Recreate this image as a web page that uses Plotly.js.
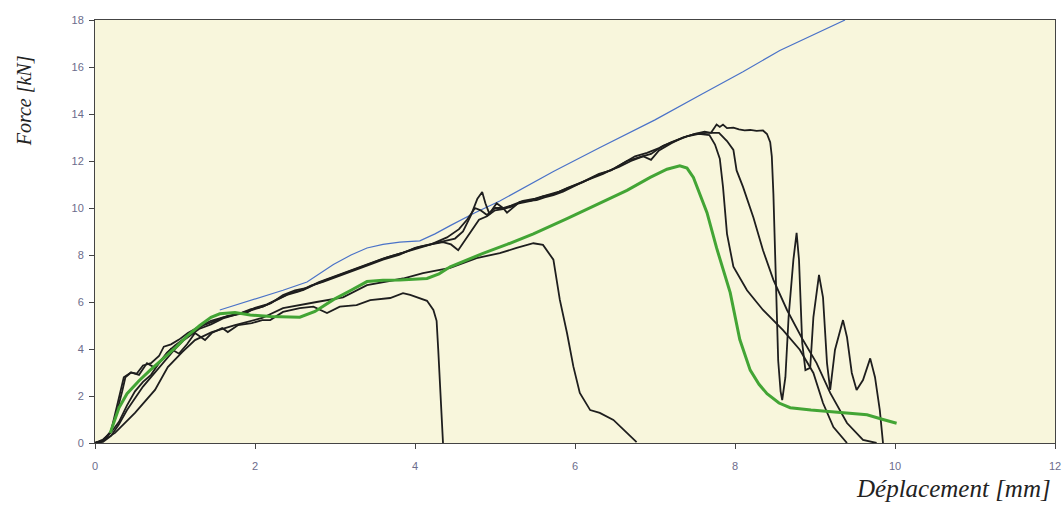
<!DOCTYPE html>
<html>
<head>
<meta charset="utf-8">
<script src="https://cdn.plot.ly/plotly-3.0.1.min.js"></script>
<style>html,body{margin:0;padding:0;background:#fff;}#chart{width:1062px;height:505px;}</style>
</head>
<body>
<div id="chart"></div>
<script>
// Specimen A (early failure ~4.3 mm)
const xA = [0,0.1,0.2,0.28,0.36,0.45,0.55,0.65,0.75,0.85,0.95,1.05,1.15,1.25,1.375,1.46,1.59,1.66,1.79,1.96,2.09,2.19,2.35,2.56,2.73,2.9,3.06,3.27,3.44,3.69,3.85,3.94,4.06,4.15,4.23,4.27,4.29,4.31,4.33,4.35];
const yA = [0,0.1,0.5,1.6,2.8,3.0,2.9,3.4,3.2,3.6,4.0,3.8,4.2,4.68,4.38,4.68,4.89,4.72,5.02,5.1,5.23,5.23,5.58,5.74,5.8,5.53,5.8,5.87,6.08,6.17,6.38,6.3,6.17,6.05,5.66,5.2,4.0,2.5,1.1,0];
// Specimen B (failure ~5.7 mm)
const xB = [0,0.1,0.25,0.5,0.75,0.91,1.09,1.25,1.46,1.75,2.09,2.35,2.77,3.1,3.4,3.6,3.85,4.1,4.31,4.44,4.77,5.06,5.27,5.48,5.6,5.73,5.81,5.9,5.98,6.06,6.19,6.31,6.48,6.65,6.77];
const yB = [0,0.1,0.43,1.28,2.26,3.23,3.87,4.38,4.72,5.02,5.32,5.74,6.0,6.2,6.72,6.85,7.0,7.23,7.36,7.45,7.87,8.08,8.3,8.5,8.43,7.8,6.1,4.68,3.25,2.13,1.4,1.28,0.98,0.43,0.04];
// Specimen C1
const xC1 = [0,0.1,0.2,0.28,0.34,0.38,0.45,0.52,0.6,0.7,0.8,0.86,0.95,1.05,1.16,1.3,1.45,1.6,1.75,1.9,2.05,2.2,2.35,2.5,2.65,2.8,3.0,3.2,3.4,3.6,3.8,4.0,4.2,4.35,4.45,4.54,4.6,4.7,4.8,4.9,5.0,5.1,5.2,5.3,5.45,5.6,5.75,5.9,6.05,6.2,6.35,6.5,6.65,6.8,6.95,7.1,7.25,7.4,7.55,7.68,7.75,7.81,7.85,7.9,7.98,8.15,8.35,8.6,8.81,8.98,9.1,9.23,9.4];
const yC1 = [0,0.1,0.5,1.4,2.2,2.8,3.0,2.95,3.3,3.4,3.7,4.1,4.2,4.4,4.68,4.95,5.2,5.35,5.45,5.6,5.75,5.95,6.3,6.5,6.6,6.85,7.1,7.35,7.6,7.85,8.05,8.25,8.45,8.55,8.45,8.2,8.5,9.0,9.5,9.65,9.9,9.95,10.05,10.2,10.3,10.5,10.6,10.85,11.05,11.25,11.45,11.7,12.0,12.15,12.3,12.65,12.85,13.05,13.15,13.1,12.7,12.1,10.9,8.9,7.5,6.5,5.66,4.8,3.97,2.98,1.7,0.68,0];
// Specimen C2
const xC2 = [0,0.1,0.2,0.3,0.4,0.5,0.6,0.7,0.8,0.9,1.0,1.1,1.2,1.35,1.5,1.65,1.8,1.95,2.1,2.25,2.4,2.55,2.7,2.85,3.0,3.2,3.4,3.6,3.8,4.0,4.2,4.4,4.55,4.65,4.75,4.82,4.9,5.0,5.1,5.2,5.35,5.5,5.65,5.8,5.95,6.1,6.25,6.4,6.55,6.7,6.85,6.95,7.05,7.2,7.35,7.5,7.65,7.8,7.9,7.98,8.02,8.1,8.23,8.35,8.48,8.65,8.85,9.02,9.19,9.4,9.6,9.77];
const yC2 = [0,0.15,0.45,0.9,1.6,2.2,2.6,2.9,3.4,3.85,4.15,4.4,4.7,5.0,5.2,5.4,5.5,5.7,5.8,6.05,6.3,6.45,6.7,6.85,7.05,7.3,7.55,7.8,8.0,8.3,8.45,8.75,9.1,9.5,10.0,9.9,9.7,10.0,10.0,10.1,10.3,10.4,10.55,10.7,10.9,11.1,11.35,11.55,11.75,12.0,12.2,12.05,12.45,12.75,13.0,13.15,13.2,13.2,12.85,12.47,11.6,10.9,9.6,8.2,6.94,5.66,4.38,3.4,2.13,0.85,0.13,0];
// Specimen C3 (late failure with oscillations)
const xC3 = [0,0.1,0.2,0.3,0.4,0.5,0.6,0.7,0.8,0.9,1.0,1.1,1.2,1.3,1.45,1.6,1.75,1.9,2.0,2.15,2.3,2.45,2.6,2.75,2.9,3.05,3.25,3.45,3.65,3.85,4.05,4.25,4.4,4.5,4.6,4.7,4.78,4.84,4.88,4.93,5.02,5.1,5.15,5.25,5.31,5.42,5.52,5.62,5.73,5.85,5.94,6.05,6.15,6.3,6.45,6.6,6.75,6.9,7.05,7.2,7.35,7.5,7.62,7.7,7.74,7.77,7.81,7.85,7.9,7.98,8.05,8.12,8.19,8.27,8.35,8.4,8.44,8.46,8.48,8.5,8.52,8.54,8.57,8.59,8.63,8.67,8.73,8.77,8.8,8.84,8.88,8.94,8.98,9.05,9.1,9.15,9.19,9.25,9.35,9.4,9.46,9.52,9.6,9.69,9.75,9.81,9.85];
const yC3 = [0,0.05,0.3,0.8,1.4,1.9,2.4,2.8,3.2,3.6,4.0,4.35,4.6,4.85,5.05,5.3,5.45,5.55,5.75,5.9,6.15,6.4,6.5,6.75,6.95,7.15,7.4,7.65,7.9,8.1,8.35,8.5,8.6,8.7,9.0,9.7,10.4,10.68,10.2,9.75,10.2,10.0,9.8,10.1,10.26,10.3,10.34,10.45,10.55,10.7,10.85,11.0,11.2,11.45,11.6,11.9,12.2,12.35,12.55,12.8,13.0,13.15,13.25,13.2,13.4,13.55,13.45,13.55,13.4,13.42,13.35,13.3,13.32,13.28,13.3,13.15,12.8,12.2,10.6,8.5,5.66,3.5,2.2,1.83,2.8,5.36,7.8,8.94,7.8,4.26,3.1,3.2,5.36,7.15,6.2,3.4,2.26,3.97,5.23,4.5,2.98,2.26,2.68,3.6,2.8,1.4,0];
// Mean / fitted curve (green)
const xG = [0.19,0.23,0.3,0.4,0.55,0.69,0.85,1.02,1.15,1.31,1.45,1.56,1.75,1.94,2.2,2.56,2.75,2.98,3.2,3.4,3.6,3.81,4.15,4.3,4.44,4.65,4.85,5.15,5.48,5.9,6.31,6.65,6.94,7.15,7.31,7.4,7.48,7.56,7.65,7.77,7.94,8.06,8.19,8.3,8.4,8.55,8.69,8.95,9.23,9.45,9.65,9.85,10.02];
const yG = [0.43,0.85,1.5,2.1,2.65,3.1,3.6,4.1,4.55,5.0,5.35,5.5,5.55,5.45,5.38,5.35,5.6,6.1,6.5,6.87,6.93,6.94,7.0,7.2,7.5,7.8,8.07,8.45,8.9,9.55,10.2,10.75,11.3,11.65,11.8,11.7,11.3,10.6,9.8,8.3,6.4,4.4,3.1,2.5,2.1,1.7,1.5,1.4,1.33,1.28,1.2,1.0,0.84];
// Model curve (blue)
const xBl = [1.56,1.94,2.35,2.65,2.98,3.2,3.4,3.6,3.81,4.06,4.25,4.44,4.75,5.06,5.73,6.3,7.0,7.56,8.1,8.56,9.0,9.375];
const yBl = [5.66,6.05,6.5,6.85,7.6,8.0,8.3,8.45,8.55,8.6,8.9,9.25,9.8,10.3,11.55,12.55,13.75,14.8,15.8,16.7,17.4,18.0];

const xTicks = [0,2,4,6,8,10,12];
const yTicks = [0,2,4,6,8,10,12,14,16,18];

const blk = {color:'#1e1e1e', width:1.8};
const traces = [
  {x:xBl, y:yBl, mode:'lines', line:{color:'#4a72c8', width:1.2}},
  {x:xA, y:yA, mode:'lines', line:blk},
  {x:xB, y:yB, mode:'lines', line:blk},
  {x:xC1, y:yC1, mode:'lines', line:blk},
  {x:xC2, y:yC2, mode:'lines', line:blk},
  {x:xC3, y:yC3, mode:'lines', line:blk},
  {x:xG, y:yG, mode:'lines', line:{color:'#43a535', width:3}}
];

const axisCommon = {
  showgrid:false, zeroline:false, showline:true, linecolor:'#444', linewidth:1,
  mirror:true, ticks:'outside', ticklen:5, tickcolor:'#444', tickwidth:1,
  tickfont:{family:'Liberation Sans, Arial', size:11, color:'#6c6c8c'}
};

const layout = {
  width:1062, height:505,
  margin:{l:95, r:7, t:20, b:62},
  paper_bgcolor:'#ffffff',
  plot_bgcolor:'#f8f6dc',
  showlegend:false,
  xaxis:Object.assign({}, axisCommon, {range:[0,12], tickvals:xTicks, ticktext:xTicks.map(String), ticklabelstandoff:8}),
  yaxis:Object.assign({}, axisCommon, {range:[0,18], tickvals:yTicks, ticktext:yTicks.map(String), ticklabelstandoff:3}),
  annotations:[
    {text:'Force [kN]', xref:'paper', yref:'paper', x:-0.074, y:0.81, xanchor:'center', yanchor:'middle', textangle:-90, showarrow:false,
     font:{family:'Liberation Serif, Times New Roman', size:20, color:'#222'}},
    {text:'Déplacement [mm]', xref:'paper', yref:'paper', x:0.998, y:-0.07, xanchor:'right', yanchor:'top', showarrow:false,
     font:{family:'Liberation Serif, Times New Roman', size:25, color:'#222'}}
  ]
};
layout.annotations[0].font.style = 'italic';
layout.annotations[1].font.style = 'italic';

Plotly.newPlot('chart', traces, layout, {staticPlot:true, displayModeBar:false});
</script>
</body>
</html>
